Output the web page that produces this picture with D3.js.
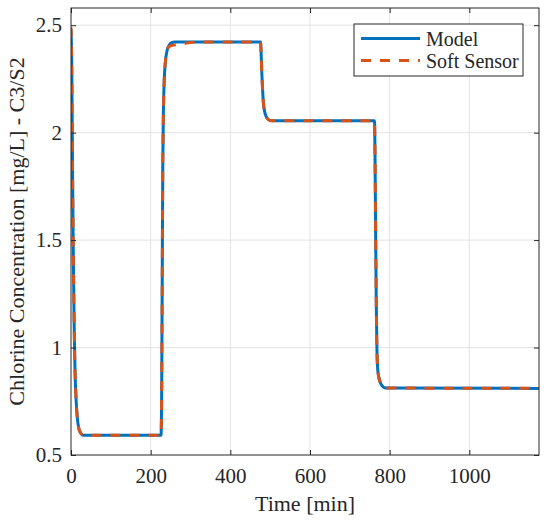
<!DOCTYPE html>
<html>
<head>
  <meta charset="UTF-8">
  <title>Chlorine concentration</title>
  <style>
    body { margin: 0; background: #fff; }
    svg text { font-family: 'Liberation Serif', 'Times New Roman', Times, serif !important; fill: #262626; }
  </style>
</head>
<body>
  <script src="https://cdn.jsdelivr.net/npm/d3@7"></script>
  <script>
    const width = 550,
      height = 525,
      margin = { top: 8, right: 11, bottom: 70, left: 71 }

    // time [min] and concentration [mg/L]
    const modelTime = [0, 2, 4, 6, 8, 10, 13, 16, 20, 25, 30, 226, 227.5, 228.5, 229.5, 230.5, 232, 234, 237, 241, 246, 252, 260, 476, 477.5, 479, 481, 483, 486, 490, 496, 505, 762, 763.5, 765, 766.5, 768, 770, 773, 777, 782, 790, 1175]
    const modelValue = [2.48, 2.3, 1.8, 1.4, 1.1, 0.9, 0.75, 0.67, 0.62, 0.6, 0.592, 0.592, 0.75, 1.1, 1.5, 1.85, 2.1, 2.24, 2.33, 2.38, 2.405, 2.418, 2.422, 2.422, 2.36, 2.28, 2.2, 2.14, 2.1, 2.075, 2.06, 2.055, 2.055, 1.85, 1.5, 1.2, 1.0, 0.9, 0.86, 0.835, 0.82, 0.812, 0.81]
    const sensorTime = [0, 2, 4, 6, 8, 10, 13, 16, 20, 25, 30, 226, 227.5, 228.5, 229.5, 230.5, 232, 234, 237, 241, 246, 252, 260, 275, 295, 320, 476, 477.5, 479, 481, 483, 486, 490, 496, 505, 762, 763.5, 765, 766.5, 768, 770, 773, 777, 782, 790, 1175]
    const sensorValue = [2.49, 2.3, 1.8, 1.4, 1.1, 0.9, 0.75, 0.67, 0.62, 0.6, 0.592, 0.592, 0.75, 1.1, 1.5, 1.85, 2.1, 2.24, 2.33, 2.38, 2.4, 2.405, 2.408, 2.412, 2.418, 2.422, 2.422, 2.36, 2.28, 2.2, 2.14, 2.1, 2.075, 2.06, 2.055, 2.055, 1.85, 1.5, 1.2, 1.0, 0.9, 0.86, 0.835, 0.82, 0.812, 0.81]

    const xTicks = [0, 200, 400, 600, 800, 1000]
    const yTicks = [0.5, 1, 1.5, 2, 2.5]
    const seriesNames = ['Model', 'Soft Sensor']
    const seriesColors = ['#0072BD', '#D95319']

    const iw = width - margin.left - margin.right,
      ih = height - margin.top - margin.bottom

    const svg = d3.select('body')
      .append('svg')
      .attr('width', width)
      .attr('height', height)

    const x = d3.scaleLinear().domain([0, 1175]).range([0, iw])
    const y = d3.scaleLinear().domain([0.5, 2.58]).range([ih, 0])

    const g = svg.append('g')
      .attr('transform', `translate(${margin.left},${margin.top})`)

    // grid
    g.selectAll('line.gx').data(xTicks.slice(1)).enter()
      .append('line')
      .attr('x1', d => x(d)).attr('x2', d => x(d))
      .attr('y1', 0).attr('y2', ih)
      .attr('stroke', '#e3e3e3').attr('stroke-width', 1)
    g.selectAll('line.gy').data(yTicks.slice(1)).enter()
      .append('line')
      .attr('x1', 0).attr('x2', iw)
      .attr('y1', d => y(d)).attr('y2', d => y(d))
      .attr('stroke', '#e3e3e3').attr('stroke-width', 1)

    // lines
    g.append('clipPath').attr('id', 'clip')
      .append('rect').attr('width', iw).attr('height', ih)

    const line = d3.line()
      .x(d => x(d[0]))
      .y(d => y(d[1]))
      .curve(d3.curveMonotoneX)

    const modelData = modelTime.map((t, i) => [t, modelValue[i]])
    const sensorData = sensorTime.map((t, i) => [t, sensorValue[i]])

    g.append('path')
      .datum(modelData)
      .attr('clip-path', 'url(#clip)')
      .attr('fill', 'none')
      .attr('stroke', seriesColors[0])
      .attr('stroke-width', 3)
      .attr('d', line)

    g.append('path')
      .datum(sensorData)
      .attr('clip-path', 'url(#clip)')
      .attr('fill', 'none')
      .attr('stroke', seriesColors[1])
      .attr('stroke-width', 3)
      .attr('stroke-dasharray', '10,9')
      .attr('d', line)

    // axes, ticks inward on all sides
    const tickLen = 5
    const axisColor = '#262626'
    g.append('g')
      .attr('transform', `translate(0,${ih})`)
      .call(d3.axisBottom(x).tickValues(xTicks).tickSizeInner(-tickLen).tickSizeOuter(0).tickPadding(13).tickFormat(d3.format('d')))
    g.append('g')
      .call(d3.axisTop(x).tickValues(xTicks).tickSizeInner(-tickLen).tickSizeOuter(0).tickFormat(''))
    g.append('g')
      .call(d3.axisLeft(y).tickValues(yTicks).tickSizeInner(-tickLen).tickSizeOuter(0).tickPadding(9).tickFormat(d3.format('')))
    g.append('g')
      .attr('transform', `translate(${iw},0)`)
      .call(d3.axisRight(y).tickValues(yTicks).tickSizeInner(-tickLen).tickSizeOuter(0).tickFormat(''))

    g.selectAll('.domain').remove()
    g.selectAll('.tick line').attr('stroke', axisColor).attr('stroke-width', 1)
    g.selectAll('.tick text')
      .style('font-size', '21px')
      .attr('fill', axisColor)

    g.append('rect')
      .attr('width', iw).attr('height', ih)
      .attr('fill', 'none')
      .attr('stroke', axisColor)
      .attr('stroke-width', 1)

    // axis titles
    svg.append('text')
      .attr('x', margin.left + iw / 2)
      .attr('y', 511)
      .attr('text-anchor', 'middle')
      .style('font-size', '22px')
      .text('Time [min]')

    svg.append('text')
      .attr('transform', `translate(24,${margin.top + ih / 2}) rotate(-90)`)
      .attr('text-anchor', 'middle')
      .style('font-size', '22px')
      .text('Chlorine Concentration [mg/L] - C3/S2')

    // legend
    const lg = svg.append('g').attr('transform', 'translate(354,24)')
    lg.append('rect')
      .attr('width', 169).attr('height', 52)
      .attr('fill', '#fff')
      .attr('stroke', axisColor)
      .attr('stroke-width', 1)
    seriesNames.forEach((name, i) => {
      const ly = 14.5 + i * 22
      lg.append('line')
        .attr('x1', 7).attr('x2', 66)
        .attr('y1', ly).attr('y2', ly)
        .attr('stroke', seriesColors[i])
        .attr('stroke-width', 3)
        .attr('stroke-dasharray', i === 1 ? '10,9' : null)
      lg.append('text')
        .attr('x', 72).attr('y', ly + 7)
        .style('font-size', '20px')
        .text(name)
    })
  </script>
</body>
</html>
